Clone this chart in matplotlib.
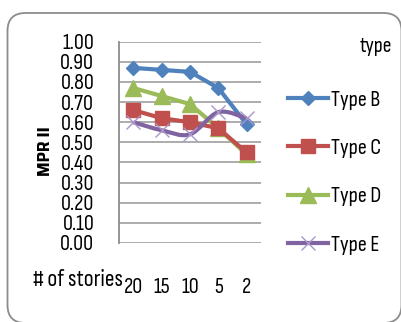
import numpy as np
import matplotlib
matplotlib.use("Agg")
import matplotlib.pyplot as plt
from matplotlib.path import Path
from matplotlib.patches import FancyBboxPatch, PathPatch
from matplotlib.transforms import IdentityTransform
from matplotlib.lines import Line2D

# data
stories = ["20", "15", "10", "5", "2"]
type_b = [0.87, 0.86, 0.85, 0.77, 0.59]
type_c = [0.66, 0.62, 0.60, 0.57, 0.45]
type_d = [0.77, 0.73, 0.69, 0.57, 0.44]
type_e = [0.60, 0.56, 0.54, 0.65, 0.62]
y_ticks = [0.0, 0.1, 0.2, 0.3, 0.4, 0.5, 0.6, 0.7, 0.8, 0.9, 1.0]

narrow = ["Sofia Sans Condensed", "DejaVu Sans"]
plt.rcParams["font.family"] = narrow

W, H = 401, 322
fig = plt.figure(figsize=(W / 100, H / 100), dpi=100)

# rounded chart border
border = FancyBboxPatch((7.5, -1), 394, 310, boxstyle="round,pad=0,rounding_size=18",
                        transform=IdentityTransform(), facecolor="none",
                        edgecolor="#8c8c8c", linewidth=1.3)
fig.patches.append(border)

# plot area in pixels
x0, x1 = 119.3, 260.7
y_top, y_bot = 41.7, 243
ax = fig.add_axes([x0 / W, (H - y_bot) / H, (x1 - x0) / W, (y_bot - y_top) / H])

x = np.arange(len(stories))
blue, red, green, purple = "#4F81BD", "#C0504D", "#9BBB59", "#8064A2"

ax.plot(x, type_b, color=blue, lw=3, marker="D", ms=7, label="Type B", zorder=5)
ax.plot(x, type_c, color=red, lw=3, marker="s", ms=10, label="Type C", zorder=4)
ax.plot(x, type_d, color=green, lw=3, marker="^", ms=11, label="Type D", zorder=3)

# Type E is a smoothed line (catmull-rom -> bezier)
pts = np.column_stack([x, type_e]).astype(float)
verts = [tuple(pts[0])]
codes = [Path.MOVETO]
for i in range(len(pts) - 1):
    p0 = pts[i - 1] if i > 0 else pts[i]
    p1 = pts[i]
    p2 = pts[i + 1]
    p3 = pts[i + 2] if i + 2 < len(pts) else pts[i + 1]
    c1 = p1 + (p2 - p0) / 6
    c2 = p2 - (p3 - p1) / 6
    verts += [tuple(c1), tuple(c2), tuple(p2)]
    codes += [Path.CURVE4, Path.CURVE4, Path.CURVE4]
ax.add_patch(PathPatch(Path(verts, codes), facecolor="none", edgecolor=purple,
                       lw=3, zorder=6))
ax.plot(x, type_e, ls="none", marker="x", ms=10, mew=1, color="#a995c9", zorder=6)

ax.set_xlim(-0.5, len(stories) - 0.5)
ax.set_ylim(0, 1)
ax.set_yticks(y_ticks)
ax.set_yticklabels(["%.2f" % v for v in y_ticks], fontsize=16)
ax.set_xticks(x)
ax.set_xticklabels(stories, fontsize=16)
ax.tick_params(axis="y", length=0, pad=18)
ax.tick_params(axis="x", length=0, pad=25)
ax.grid(axis="y", color="#a6a6a6", lw=1.3)
ax.set_axisbelow(True)
for s in ["top", "right", "bottom"]:
    ax.spines[s].set_visible(False)
ax.spines["left"].set_color("#8c8c8c")
ax.spines["left"].set_linewidth(1.3)

fig.text(45 / W, 1 - 151 / H, "MPR II", rotation=90, fontsize=13, fontweight="bold",
         family=["Saira SemiCondensed", "DejaVu Sans"], ha="center", va="center")
fig.text(33 / W, 1 - 280 / H, "# of stories", fontsize=17, ha="left", va="center")
fig.text(376 / W, 1 - 47 / H, "type", fontsize=15.5, ha="center", va="center")

handles = [
    Line2D([], [], color=blue, lw=3, marker="D", ms=7),
    Line2D([], [], color=red, lw=3, marker="s", ms=10),
    Line2D([], [], color=green, lw=3, marker="^", ms=11),
    Line2D([], [], color=purple, lw=3, marker="x", ms=10, mew=1, mec="#a995c9"),
]
fig.legend(handles, ["Type B", "Type C", "Type D", "Type E"], loc="upper left",
           bbox_to_anchor=(288 / W, 1 - 90 / H), frameon=False, fontsize=16,
           handlelength=1.8, handletextpad=0.15, labelspacing=1.3, borderpad=0,
           borderaxespad=0)

fig.savefig("out.png", dpi=100)
